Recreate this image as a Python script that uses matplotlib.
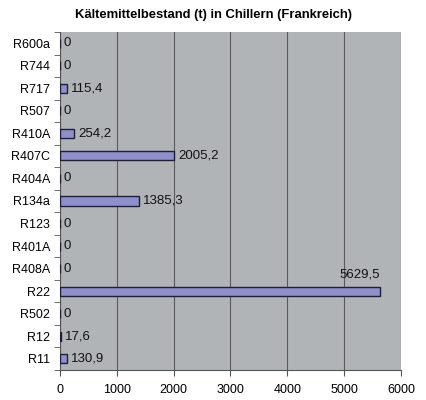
import matplotlib
matplotlib.use("Agg")
import matplotlib.pyplot as plt
import numpy as np

categories = ["R600a", "R744", "R717", "R507", "R410A", "R407C", "R404A", "R134a",
              "R123", "R401A", "R408A", "R22", "R502", "R12", "R11"]
values = [0, 0, 115.4, 0, 254.2, 2005.2, 0, 1385.3, 0, 0, 0, 5629.5, 0, 17.6, 130.9]
labels = ["0", "0", "115,4", "0", "254,2", "2005,2", "0", "1385,3", "0", "0", "0",
          "5629,5", "0", "17,6", "130,9"]
xticks = [0, 1000, 2000, 3000, 4000, 5000, 6000]

plt.rcParams['font.family'] = ['Liberation Sans', 'DejaVu Sans']

fig = plt.figure(figsize=(4.27, 4.0), dpi=100)
ax = fig.add_axes([60/427, 1-370/400, 341/427, 338/400])
ax.set_facecolor('#b1b4b7')

y = np.arange(len(categories))
ax.barh(y, values, height=0.4, color='#8f90c9', edgecolor='#1e1e3a', linewidth=1.0, zorder=3)

for yi, v, lab in zip(y, values, labels):
    if v > 5000:
        ax.text(v, yi - 0.75, lab, ha='right', va='center', fontsize=9.5, color='#111111')
    else:
        ax.text(v + 70, yi, lab, ha='left', va='center', fontsize=9.5, color='#111111')

ax.set_xlim(0, 6000)
ax.set_ylim(len(categories) - 0.5, -0.5)
ax.set_xticks(xticks)
ax.set_xticklabels([str(t) for t in xticks])
ax.set_yticks(y)
ax.set_yticklabels(categories)
ax.set_yticks(np.arange(-0.5, len(categories), 1), minor=True)
ax.tick_params(axis='y', which='major', length=0, labelsize=9, pad=7)
ax.tick_params(axis='y', which='minor', length=4, color='#555555')
ax.tick_params(axis='x', which='major', length=4, color='#555555', labelsize=9, pad=6)
ax.xaxis.grid(True, color='#5a5a5a', linewidth=0.8, zorder=0)
ax.set_axisbelow(True)
for s in ['top', 'right']:
    ax.spines[s].set_visible(False)
ax.spines['left'].set_color('#555555')
ax.spines['bottom'].set_color('#555555')

fig.text(0.5, 1-15/400, "Kältemittelbestand (t) in Chillern (Frankreich)", ha='center', va='center',
         fontsize=9.4, fontweight='bold')

fig.savefig("out.png", dpi=100)
